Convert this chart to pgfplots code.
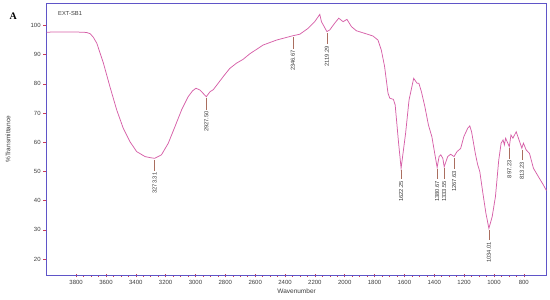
\documentclass[border=0pt]{standalone}
\usepackage{pgfplots}
\pgfplotsset{compat=1.18}
\usepackage{fontspec}
\setmainfont{Liberation Sans}
\newfontfamily\seriffont{Liberation Serif}
\definecolor{framec}{RGB}{95,85,200}
\definecolor{curvec}{RGB}{214,96,168}
\definecolor{stubc}{RGB}{170,110,95}
\definecolor{tickc}{RGB}{200,60,90}
\definecolor{txtc}{RGB}{60,60,60}
\pgfplotstableread{
wn y
3997 97.7
3900 97.8
3840 97.8
3760 97.7
3730 97.6
3706 97.2
3685 96.0
3661 93.9
3617 87.1
3573 79.0
3528 71.1
3484 64.8
3439 60.2
3394 56.8
3338 55.1
3300 54.7
3273.31 54.5
3228 55.7
3182 59.7
3138 65.3
3093 71.1
3049 75.6
3020 77.6
2997 78.5
2970 77.9
2927.5 75.6
2903 77.3
2881 78.0
2848 80.2
2814 82.5
2770 85.3
2725 87.1
2681 88.4
2636 90.3
2547 93.3
2457 95.0
2346.67 96.5
2301 97.0
2246 99.0
2201 101.3
2167 103.8
2156 101.3
2119.29 97.9
2100 98.5
2067 100.8
2040 102.5
2011 101.3
1985 102.1
1955 99.6
1922 98.2
1866 97.3
1811 96.4
1777 95.0
1755 91.6
1733 86.0
1710 76.8
1698 75.1
1674 74.7
1662 72.8
1639 59.7
1622.25 51.1
1592 63.1
1569 74.5
1538 81.9
1515 80.2
1503 80.2
1486 77.3
1463 72.2
1439 65.9
1416 61.9
1397 56.2
1380.67 51.4
1367.6 55.1
1356.3 55.7
1342.6 54.5
1333.55 51.6
1310 55.1
1290 55.9
1267.63 55.1
1247.5 56.8
1223 57.9
1202 61.9
1176 64.8
1162 65.6
1150 63.6
1125 56.2
1110 52.5
1095 50.0
1074 42.5
1054 35.7
1034.01 30.5
1012 34.5
990 41.4
968 53.9
952 59.7
939 60.8
930 59.1
922 61.4
897.23 58.5
886 62.5
873 61.4
851 63.6
836 61.4
813.23 58.0
802.5 59.7
784.5 57.4
762 56.2
735.5 51.1
702 48.2
669 45.4
651 43.7
648 43.5
}\spectrum
\begin{document}
\begin{tikzpicture}[
  stub/.style={stubc, line width=0.5pt},
  plab/.style={pos=1, rotate=90, anchor=east, inner sep=1.2pt, font=\fontsize{5.8}{6}\selectfont, text=txtc}
]
\begin{axis}[
  scale only axis,
  width=499.8pt, height=272.7pt,
  x dir=reverse,
  xmin=648, xmax=3997,
  ymin=14.3, ymax=107.7,
  axis line style={framec, line width=0.6pt},
  xtick={800,1000,...,3800},
  minor x tick num=3,
  ytick={20,30,...,100},
  tick style={tickc, line width=0.5pt},
  major tick length=3.5pt,
  minor tick length=2pt,
  xtick align=center,
  ytick align=outside,
  xtick pos=bottom, ytick pos=left,
  tick label style={font=\fontsize{6}{7}\selectfont, text=txtc},
  /pgf/number format/assume math mode=true,
  /pgf/number format/set thousands separator={},
  xticklabel style={yshift=1pt},
  yticklabel style={xshift=1pt},
  xlabel={Wavenumber},
  ylabel={\%Transmittance},
  label style={font=\fontsize{6.5}{7}\selectfont, text=txtc},
  xlabel style={at={(axis description cs:0.5,-0.056)}, anchor=center},
  ylabel style={at={(axis description cs:-0.0774,0.5)}, anchor=center},
  clip=false,
]
\addplot[curvec, line width=0.75pt] table[x=wn, y=y] {\spectrum};

\addplot[stub] coordinates {(3273.31,54.0) (3273.31,50.1)} node[plab] {3273.31};
\addplot[stub] coordinates {(2927.5,75.1) (2927.5,71.2)} node[plab] {2927.50};
\addplot[stub] coordinates {(2346.67,96.0) (2346.67,92.1)} node[plab] {2346.67};
\addplot[stub] coordinates {(2119.29,97.4) (2119.29,93.5)} node[plab] {2119.29};
\addplot[stub] coordinates {(1622.25,50.6) (1622.25,47.3)} node[plab] {1622.25};
\addplot[stub] coordinates {(1380.67,50.9) (1380.67,47.3)} node[plab] {1380.67};
\addplot[stub] coordinates {(1333.55,51.1) (1333.55,47.3)} node[plab] {1333.55};
\addplot[stub] coordinates {(1267.63,54.6) (1267.63,50.7)} node[plab] {1267.63};
\addplot[stub] coordinates {(1034.01,30.0) (1034.01,26.4)} node[plab] {1034.01};
\addplot[stub] coordinates {(897.23,58.0) (897.23,54.3)} node[plab] {897.23};
\addplot[stub] coordinates {(813.23,57.5) (813.23,53.8)} node[plab] {813.23};

\node[anchor=west, font=\fontsize{5.8}{6}\selectfont, text=txtc] at (rel axis cs:0.016,0.963) {EXT-SB1};
\node[font=\seriffont\bfseries\fontsize{10}{11}\selectfont] at (rel axis cs:-0.067,0.953) {A};
\end{axis}
\pgfresetboundingbox
\path (current axis.south west) ++(-46.7pt,-23.3pt) coordinate (bbsw);
\path (current axis.north east) ++(3.5pt,3pt) coordinate (bbne);
\path[use as bounding box] (bbsw) rectangle (bbne);
\end{tikzpicture}
\end{document}
